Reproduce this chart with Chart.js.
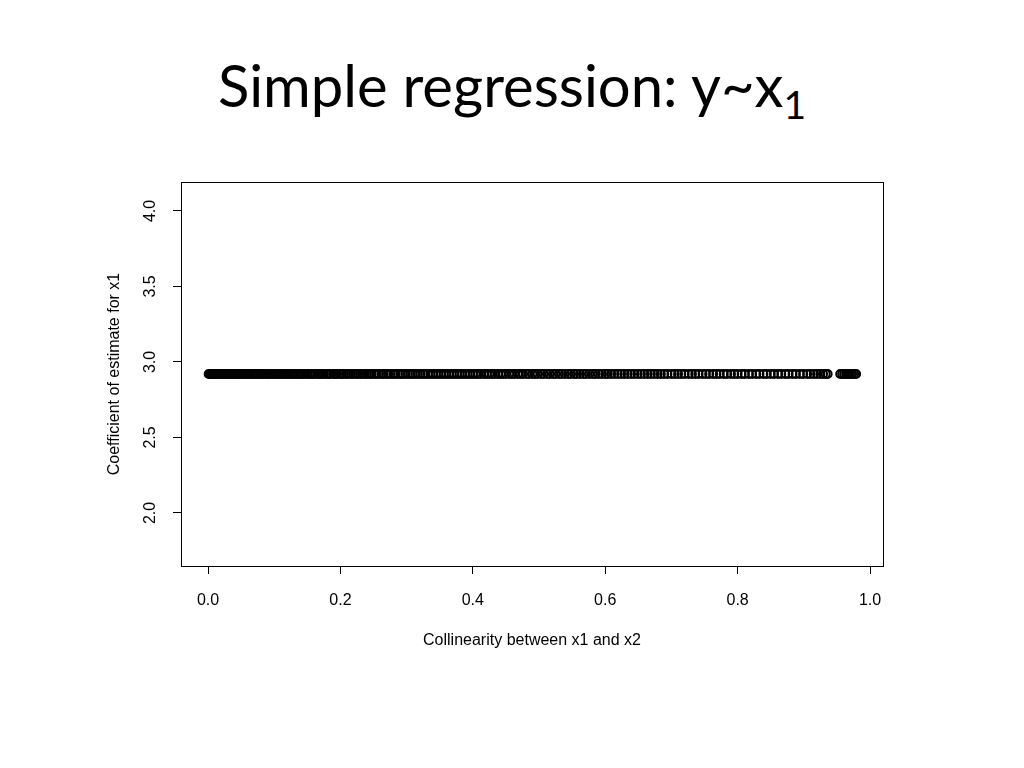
<!DOCTYPE html>
<html>
<head>
    <title>Simple regression</title>
    <style>
        body {
            margin: 0;
            padding: 0;
            background-color: #FFFFFF;
            font-family: "Liberation Sans", Arial, sans-serif;
        }

        #title {
            position: absolute;
            left: 0;
            top: 45px;
            width: 1024px;
            text-align: center;
            font-family: Lato, "Open Sans", sans-serif;
            font-size: 58px;
            line-height: 80px;
            color: #000000;
        }

        #title sub {
            font-size: 39px;
            vertical-align: -12px;
            line-height: 0;
            color: #000000;
        }

        #chart-container {
            position: absolute;
            left: 0;
            top: 0;
            width: 1024px;
            height: 768px;
        }
    </style>
</head>
<body>
    <div id="title">Simple regression: y~x<sub>1</sub></div>
    <div id="chart-container">
        <canvas id="chart" width="1024" height="768"></canvas>
    </div>

    <script src="https://cdn.jsdelivr.net/npm/chart.js"></script>
    <script>
        // collinearity between x1 and x2 (one point per simulation)
        var collinearity = [
            0.001, 0.003, 0.004, 0.006, 0.008, 0.010, 0.012, 0.014, 0.016, 0.018,
            0.020, 0.022, 0.025, 0.027, 0.029, 0.031, 0.034, 0.036, 0.038, 0.041,
            0.043, 0.045, 0.048, 0.050, 0.053, 0.055, 0.058, 0.060, 0.063, 0.065,
            0.068, 0.071, 0.073, 0.076, 0.079, 0.081, 0.084, 0.087, 0.090, 0.092,
            0.095, 0.098, 0.101, 0.104, 0.107, 0.110, 0.113, 0.116, 0.119, 0.122,
            0.125, 0.128, 0.131, 0.134, 0.137, 0.140, 0.143, 0.146, 0.150, 0.153,
            0.156, 0.159, 0.162, 0.166, 0.169, 0.172, 0.175, 0.179, 0.182, 0.185,
            0.189, 0.192, 0.195, 0.199, 0.202, 0.205, 0.209, 0.212, 0.216, 0.219,
            0.223, 0.226, 0.230, 0.233, 0.237, 0.240, 0.244, 0.247, 0.251, 0.254,
            0.258, 0.262, 0.265, 0.269, 0.272, 0.276, 0.280, 0.283, 0.287, 0.291,
            0.294, 0.298, 0.302, 0.306, 0.309, 0.313, 0.317, 0.321, 0.325, 0.328,
            0.332, 0.336, 0.340, 0.344, 0.348, 0.352, 0.356, 0.360, 0.364, 0.368,
            0.372, 0.376, 0.380, 0.384, 0.388, 0.392, 0.396, 0.400, 0.404, 0.408,
            0.412, 0.417, 0.421, 0.425, 0.429, 0.433, 0.438, 0.442, 0.446, 0.450,
            0.455, 0.459, 0.463, 0.468, 0.472, 0.476, 0.481, 0.485, 0.490, 0.494,
            0.498, 0.503, 0.507, 0.512, 0.516, 0.521, 0.525, 0.530, 0.534, 0.539,
            0.544, 0.548, 0.553, 0.557, 0.562, 0.567, 0.571, 0.576, 0.581, 0.585,
            0.590, 0.595, 0.600, 0.604, 0.609, 0.614, 0.619, 0.624, 0.629, 0.634,
            0.639, 0.644, 0.649, 0.654, 0.659, 0.664, 0.669, 0.674, 0.679, 0.684,
            0.689, 0.694, 0.700, 0.705, 0.710, 0.715, 0.720, 0.726, 0.731, 0.736,
            0.741, 0.747, 0.752, 0.757, 0.763, 0.768, 0.773, 0.779, 0.784, 0.790,
            0.795, 0.800, 0.806, 0.811, 0.817, 0.822, 0.828, 0.833, 0.839, 0.844,
            0.850, 0.855, 0.861, 0.866, 0.872, 0.877, 0.883, 0.888, 0.894, 0.899,
            0.905, 0.910, 0.915, 0.920, 0.925, 0.929, 0.933, 0.936, 0.955, 0.958,
            0.961, 0.964, 0.967, 0.970, 0.973, 0.976, 0.979
        ];

        // estimated coefficient for x1, same order as above
        var coefficient = [
            2.92, 2.92, 2.92, 2.92, 2.92, 2.92, 2.92, 2.92, 2.92, 2.92,
            2.92, 2.92, 2.92, 2.92, 2.92, 2.92, 2.92, 2.92, 2.92, 2.92,
            2.92, 2.92, 2.92, 2.92, 2.92, 2.92, 2.92, 2.92, 2.92, 2.92,
            2.92, 2.92, 2.92, 2.92, 2.92, 2.92, 2.92, 2.92, 2.92, 2.92,
            2.92, 2.92, 2.92, 2.92, 2.92, 2.92, 2.92, 2.92, 2.92, 2.92,
            2.92, 2.92, 2.92, 2.92, 2.92, 2.92, 2.92, 2.92, 2.92, 2.92,
            2.92, 2.92, 2.92, 2.92, 2.92, 2.92, 2.92, 2.92, 2.92, 2.92,
            2.92, 2.92, 2.92, 2.92, 2.92, 2.92, 2.92, 2.92, 2.92, 2.92,
            2.92, 2.92, 2.92, 2.92, 2.92, 2.92, 2.92, 2.92, 2.92, 2.92,
            2.92, 2.92, 2.92, 2.92, 2.92, 2.92, 2.92, 2.92, 2.92, 2.92,
            2.92, 2.92, 2.92, 2.92, 2.92, 2.92, 2.92, 2.92, 2.92, 2.92,
            2.92, 2.92, 2.92, 2.92, 2.92, 2.92, 2.92, 2.92, 2.92, 2.92,
            2.92, 2.92, 2.92, 2.92, 2.92, 2.92, 2.92, 2.92, 2.92, 2.92,
            2.92, 2.92, 2.92, 2.92, 2.92, 2.92, 2.92, 2.92, 2.92, 2.92,
            2.92, 2.92, 2.92, 2.92, 2.92, 2.92, 2.92, 2.92, 2.92, 2.92,
            2.92, 2.92, 2.92, 2.92, 2.92, 2.92, 2.92, 2.92, 2.92, 2.92,
            2.92, 2.92, 2.92, 2.92, 2.92, 2.92, 2.92, 2.92, 2.92, 2.92,
            2.92, 2.92, 2.92, 2.92, 2.92, 2.92, 2.92, 2.92, 2.92, 2.92,
            2.92, 2.92, 2.92, 2.92, 2.92, 2.92, 2.92, 2.92, 2.92, 2.92,
            2.92, 2.92, 2.92, 2.92, 2.92, 2.92, 2.92, 2.92, 2.92, 2.92,
            2.92, 2.92, 2.92, 2.92, 2.92, 2.92, 2.92, 2.92, 2.92, 2.92,
            2.92, 2.92, 2.92, 2.92, 2.92, 2.92, 2.92, 2.92, 2.92, 2.92,
            2.92, 2.92, 2.92, 2.92, 2.92, 2.92, 2.92, 2.92, 2.92, 2.92,
            2.92, 2.92, 2.92, 2.92, 2.92, 2.92, 2.92, 2.92, 2.92, 2.92,
            2.92, 2.92, 2.92, 2.92, 2.92, 2.92, 2.92
        ];

        var xTicks = [0.0, 0.2, 0.4, 0.6, 0.8, 1.0];
        var yTicks = [2.0, 2.5, 3.0, 3.5, 4.0];

        var points = [];
        for (var i = 0; i < collinearity.length; i++) {
            points.push({ x: collinearity[i], y: coefficient[i] });
        }

        // draws the closed box round the plot region, like R's box()
        var boxPlugin = {
            id: 'box',
            afterDraw: function(chart) {
                var a = chart.chartArea;
                var c = chart.ctx;
                c.save();
                c.strokeStyle = '#000000';
                c.lineWidth = 1;
                c.strokeRect(Math.round(a.left) + 0.5, Math.round(a.top) + 0.5,
                    Math.round(a.right - a.left), Math.round(a.bottom - a.top));
                c.restore();
            }
        };

        var tickFont = { family: '"Liberation Sans", Arial, sans-serif', size: 16 };

        var ctx = document.getElementById('chart').getContext('2d');
        var chart = new Chart(ctx, {
            type: 'scatter',
            data: {
                datasets: [{
                    label: 'Coefficient of estimate for x1',
                    data: points,
                    pointStyle: 'circle',
                    pointRadius: 4,
                    pointBorderWidth: 2,
                    borderColor: '#000000',
                    backgroundColor: 'rgba(0,0,0,0)'
                }]
            },
            options: {
                responsive: false,
                animation: false,
                layout: {
                    padding: { left: 101, right: 141, top: 182, bottom: 112 }
                },
                plugins: {
                    legend: { display: false },
                    tooltip: { enabled: false }
                },
                scales: {
                    x: {
                        type: 'linear',
                        min: -0.0408,
                        max: 1.0196,
                        afterFit: function(scale) { scale.height = 90; },
                        afterBuildTicks: function(scale) {
                            scale.ticks = xTicks.map(function(v) { return { value: v }; });
                        },
                        border: { display: true, color: '#000000', width: 1 },
                        grid: {
                            drawOnChartArea: false,
                            drawTicks: true,
                            tickLength: 8,
                            color: '#000000'
                        },
                        ticks: {
                            color: '#000000',
                            font: tickFont,
                            padding: 17,
                            maxRotation: 0,
                            callback: function(v) { return v.toFixed(1); }
                        },
                        title: {
                            display: true,
                            text: 'Collinearity between x1 and x2',
                            color: '#000000',
                            font: tickFont,
                            padding: { top: 0, bottom: 6 }
                        }
                    },
                    y: {
                        type: 'linear',
                        min: 1.649,
                        max: 4.192,
                        afterFit: function(scale) { scale.width = 80; },
                        afterBuildTicks: function(scale) {
                            scale.ticks = yTicks.map(function(v) { return { value: v }; });
                        },
                        border: { display: true, color: '#000000', width: 1 },
                        grid: {
                            drawOnChartArea: false,
                            drawTicks: true,
                            tickLength: 8,
                            color: '#000000'
                        },
                        ticks: {
                            color: '#000000',
                            font: tickFont,
                            padding: 11,
                            minRotation: 90,
                            maxRotation: 90,
                            crossAlign: 'center',
                            callback: function(v) { return v.toFixed(1); }
                        },
                        title: {
                            display: true,
                            text: 'Coefficient of estimate for x1',
                            color: '#000000',
                            font: tickFont,
                            padding: { top: 4, bottom: 0 }
                        }
                    }
                }
            },
            plugins: [boxPlugin]
        });
    </script>
</body>
</html>
